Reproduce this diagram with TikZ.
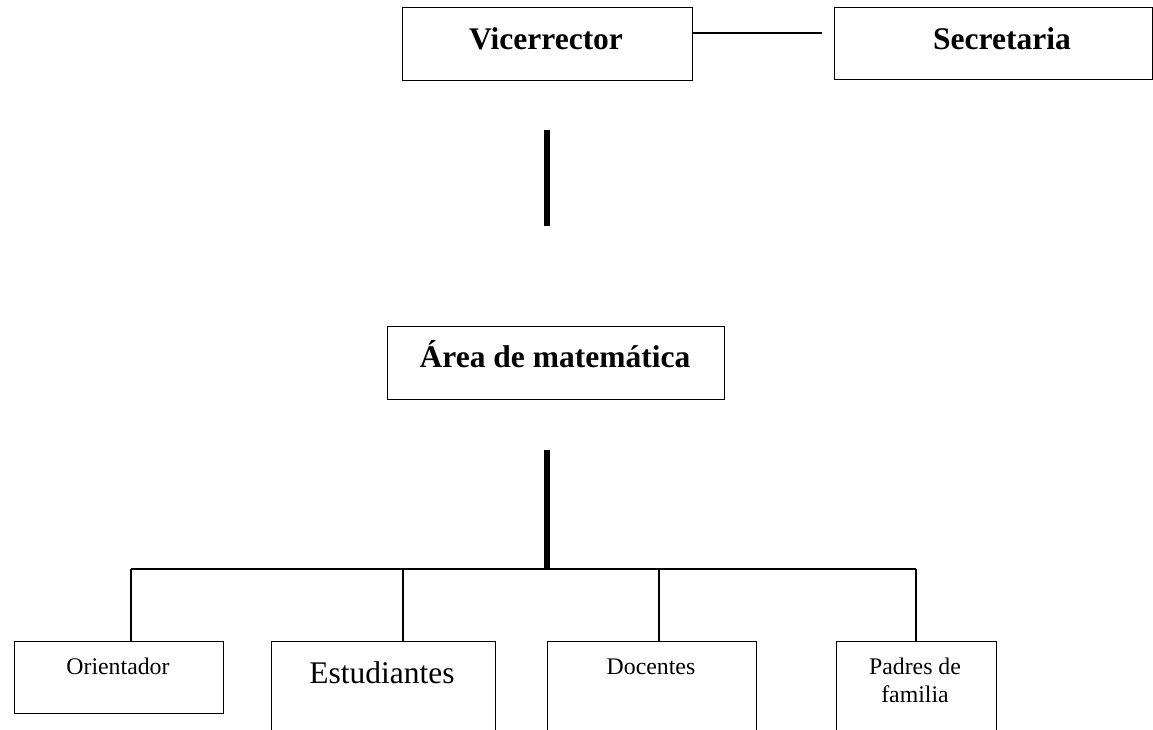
\documentclass[tikz,border=0pt]{standalone}
\usepackage{fontspec}
\setmainfont{Liberation Serif}
\begin{document}
\begin{tikzpicture}[x=1pt,y=-1pt,
  box/.style={draw,line width=1.4pt,inner sep=0pt,anchor=north west},
  thin/.style={line width=1.4pt},
  thick/.style={line width=6pt},
  big/.style={font=\fontsize{31.5}{36}\selectfont\bfseries,anchor=base},
  mid/.style={font=\fontsize{31.5}{36}\selectfont,anchor=base},
  small/.style={font=\fontsize{23.8}{28}\selectfont,anchor=base,align=center}]
\clip (0,0) rectangle (1153,730);
\fill[white] (0,0) rectangle (1153,730);
% top boxes
\node[box,minimum width=290pt,minimum height=73pt] (vic) at (402,7) {};
\node[box,minimum width=318pt,minimum height=72pt] (sec) at (834,7) {};
\node[big] (vict) at (546,50) {Vicerrector};
\node[big] (sect) at (1002,50) {Secretaria};
\coordinate (vicR) at (692,33);
\coordinate (linkEnd) at (822,33);
\draw[thin] (vicR) -- (linkEnd);
% thick connector 1
\coordinate (t1a) at (547,130);
\coordinate (t1b) at (547,226);
\draw[thick] (t1a) -- (t1b);
% area box
\node[box,minimum width=337pt,minimum height=73pt] (area) at (387,326) {};
\node[big] (areat) at (555,367) {Área de matemática};
% thick connector 2
\coordinate (t2a) at (547,450);
\coordinate (t2b) at (547,569);
\draw[thick] (t2a) -- (t2b);
% bottom boxes
\node[box,minimum width=209pt,minimum height=72pt] (ori) at (14,641) {};
\node[box,minimum width=224pt,minimum height=110pt] (est) at (271,641) {};
\node[box,minimum width=209pt,minimum height=110pt] (doc) at (547,641) {};
\node[box,minimum width=160pt,minimum height=110pt] (pad) at (836,641) {};
\node[small] (orit) at (118,674) {Orientador};
\node[mid] (estt) at (382,683) {Estudiantes};
\node[small] (doct) at (651,674) {Docentes};
\node[small] (padt1) at (915,674) {Padres de};
\node[small] (padt2) at (915,702) {familia};
% branch line
\coordinate (bL) at (131,569);
\coordinate (bR) at (916,569);
\draw[thin] (bL) -- (bR);
\draw[thin] (bL) -- (bL |- ori.north);
\draw[thin] (403,569) -- (403,641);
\draw[thin] (659,569) -- (659,641);
\draw[thin] (bR) -- (bR |- pad.north);
\end{tikzpicture}
\end{document}
